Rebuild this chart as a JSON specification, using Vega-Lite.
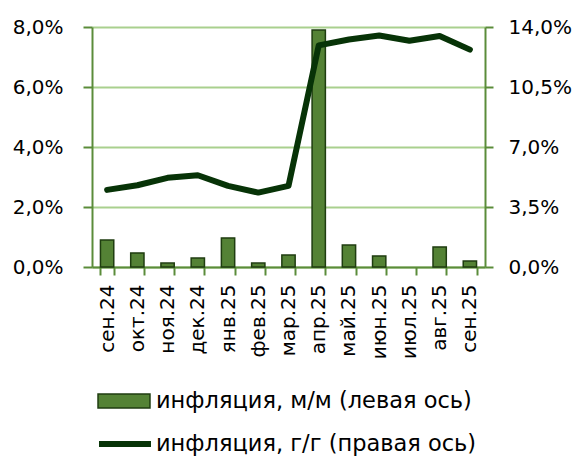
{
  "$schema": "https://vega.github.io/schema/vega-lite/v6.json",
  "width": 393,
  "height": 240,
  "autosize": "none",
  "padding": {"left": 92, "top": 27, "right": 94, "bottom": 189},
  "background": "white",
  "config": {
    "font": "DejaVu Sans",
    "view": {"stroke": null},
    "axis": {"labelFont": "DejaVu Sans", "labelFontSize": 20, "labelColor": "#000000", "domainColor": "#5b8c3a", "domainWidth": 2, "tickColor": "#5b8c3a", "tickWidth": 2, "title": null},
    "legend": {"labelFont": "DejaVu Sans", "labelFontSize": 22.5, "labelColor": "#000000", "padding": 0, "labelLimit": 0}
  },
  "data": {"values": [
    {"m": "сен.24", "mm": 0.9, "yy": 4.5},
    {"m": "окт.24", "mm": 0.47, "yy": 4.77},
    {"m": "ноя.24", "mm": 0.13, "yy": 5.2},
    {"m": "дек.24", "mm": 0.3, "yy": 5.35},
    {"m": "янв.25", "mm": 0.97, "yy": 4.73},
    {"m": "фев.25", "mm": 0.13, "yy": 4.34},
    {"m": "мар.25", "mm": 0.4, "yy": 4.73},
    {"m": "апр.25", "mm": 7.9, "yy": 12.93},
    {"m": "май.25", "mm": 0.73, "yy": 13.27},
    {"m": "июн.25", "mm": 0.37, "yy": 13.5},
    {"m": "июл.25", "mm": 0.0, "yy": 13.2},
    {"m": "авг.25", "mm": 0.67, "yy": 13.48},
    {"m": "сен.25", "mm": 0.2, "yy": 12.68}
  ]},
  "encoding": {
    "x": {"field": "m", "type": "nominal", "sort": null,
      "scale": {"paddingInner": 0.56, "paddingOuter": 0.28},
      "axis": {"labelAngle": 270, "labelAlign": "right", "labelBaseline": "middle", "tickBand": "extent", "tickSize": 8, "labelPadding": 9, "labelFontSize": 20}}
  },
  "layer": [
    {
      "mark": {"type": "bar", "stroke": "#1f3d10", "strokeWidth": 1.5},
      "encoding": {
        "y": {"field": "mm", "type": "quantitative", "scale": {"domain": [0, 8]},
          "axis": {"orient": "left", "values": [0, 2, 4, 6, 8], "labelExpr": "replace(format(datum.value, '.1f'), '.', ',') + '%'", "grid": true, "gridColor": "#a9d08e", "gridWidth": 2, "tickSize": 9, "labelPadding": 20}},
        "strokeOpacity": {"condition": {"test": "datum.mm == 0", "value": 0}, "value": 1},
        "fill": {"datum": "инфляция, м/м (левая ось)", "type": "nominal",
          "scale": {"range": ["#548235"]},
          "legend": {"orient": "none", "legendX": 5, "legendY": 347, "symbolType": "M-1,-0.27L1,-0.27L1,0.27L-1,0.27Z", "symbolSize": 2700, "symbolStrokeColor": "#1f3d10", "symbolStrokeWidth": 1.5, "symbolOpacity": 1, "labelOffset": 5, "title": null}}
      }
    },
    {
      "mark": {"type": "line", "strokeWidth": 6, "strokeCap": "round", "strokeJoin": "round"},
      "encoding": {
        "y": {"field": "yy", "type": "quantitative", "scale": {"domain": [0, 14]},
          "axis": {"orient": "right", "values": [0, 3.5, 7, 10.5, 14], "labelExpr": "replace(format(datum.value, '.1f'), '.', ',') + '%'", "grid": false, "tickSize": 8, "labelPadding": 15}},
        "stroke": {"datum": "инфляция, г/г (правая ось)", "type": "nominal",
          "scale": {"range": ["#073307"]},
          "legend": {"orient": "none", "legendX": 4, "legendY": 388, "symbolType": "stroke", "symbolSize": 2700, "symbolStrokeWidth": 6, "labelOffset": 2, "title": null}}
      }
    }
  ],
  "resolve": {"scale": {"y": "independent"}}
}
